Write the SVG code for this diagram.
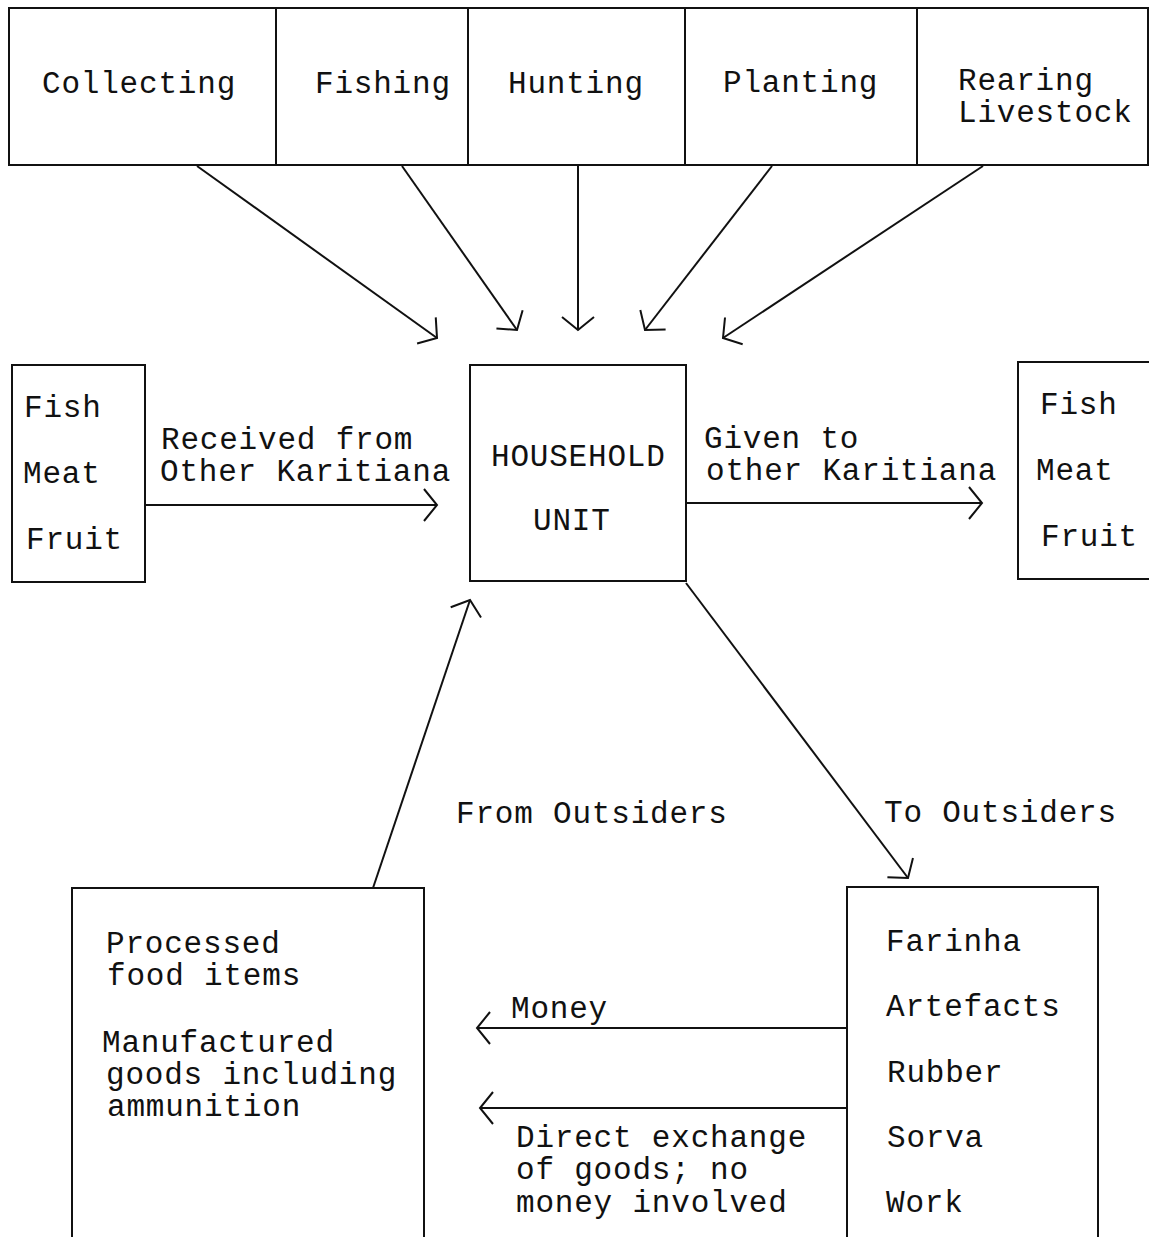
<svg xmlns="http://www.w3.org/2000/svg" width="1149" height="1237" viewBox="0 0 1149 1237">
<style>
.box{fill:none;stroke:#111;stroke-width:2}
.ln{fill:none;stroke:#111;stroke-width:2;marker-end:url(#ah)}
text{font-family:"Liberation Mono","Courier New",monospace;font-size:31px;letter-spacing:0.8px;fill:#111}
</style>
<defs>
<marker id="ah" markerUnits="userSpaceOnUse" markerWidth="18" markerHeight="36" viewBox="-2 -2 18 36" refX="13" refY="16" orient="auto">
<path d="M0,0 L13,16 L0,32" fill="none" stroke="#111" stroke-width="2"/>
</marker>
</defs>
<rect width="1149" height="1237" fill="#fff"/>
<g id="collecting"><rect class="box" x="9" y="8" width="267" height="157"/><text x="42" y="93">Collecting</text></g>
<g id="fishing"><rect class="box" x="276" y="8" width="192" height="157"/><text x="315" y="93">Fishing</text></g>
<g id="hunting"><rect class="box" x="468" y="8" width="217" height="157"/><text x="508" y="93">Hunting</text></g>
<g id="planting"><rect class="box" x="685" y="8" width="232" height="157"/><text x="723" y="92">Planting</text></g>
<g id="rearing"><rect class="box" x="917" y="8" width="231" height="157"/><text x="958" y="90">Rearing</text><text x="958" y="122">Livestock</text></g>
<g id="household"><rect class="box" x="470" y="365" width="216" height="216"/><text x="491" y="466">HOUSEHOLD</text><text x="533" y="530">UNIT</text></g>
<g id="left-goods"><rect class="box" x="12" y="365" width="133" height="217"/><text x="24" y="417">Fish</text><text x="23" y="483">Meat</text><text x="26" y="549">Fruit</text></g>
<g id="right-goods"><rect class="box" x="1018" y="362" width="135" height="217"/><text x="1040" y="414">Fish</text><text x="1036" y="480">Meat</text><text x="1041" y="546">Fruit</text></g>
<g id="outside-goods"><rect class="box" x="72" y="888" width="352" height="360"/><text x="106" y="953">Processed</text><text x="107" y="985">food items</text><text x="102" y="1052">Manufactured</text><text x="106" y="1084">goods including</text><text x="107" y="1116">ammunition</text></g>
<g id="exports"><rect class="box" x="847" y="887" width="251" height="360"/><text x="886" y="951">Farinha</text><text x="886" y="1016">Artefacts</text><text x="887" y="1082">Rubber</text><text x="887" y="1147">Sorva</text><text x="886" y="1212">Work</text></g>
<g id="connectors">
<line class="ln" x1="197" y1="166" x2="437" y2="338"/>
<line class="ln" x1="402" y1="166" x2="517" y2="330"/>
<line class="ln" x1="578" y1="166" x2="578" y2="330"/>
<line class="ln" x1="772" y1="166" x2="645" y2="330"/>
<line class="ln" x1="983" y1="166" x2="723" y2="338"/>
<line class="ln" x1="145" y1="505" x2="437" y2="505"/>
<line class="ln" x1="686" y1="503" x2="982" y2="503"/>
<line class="ln" x1="686" y1="583" x2="908" y2="878"/>
<line class="ln" x1="373" y1="888" x2="470" y2="600"/>
<line class="ln" x1="847" y1="1028" x2="477" y2="1028"/>
<line class="ln" x1="847" y1="1108" x2="480" y2="1108"/>
<text x="161" y="449">Received from</text>
<text x="160" y="481">Other Karitiana</text>
<text x="704" y="448">Given to</text>
<text x="706" y="480">other Karitiana</text>
<text x="884" y="822">To Outsiders</text>
<text x="456" y="823">From Outsiders</text>
<text x="511" y="1018">Money</text>
<text x="516" y="1147">Direct exchange</text>
<text x="516" y="1179">of goods; no</text>
<text x="516" y="1212">money involved</text>
</g>
</svg>
